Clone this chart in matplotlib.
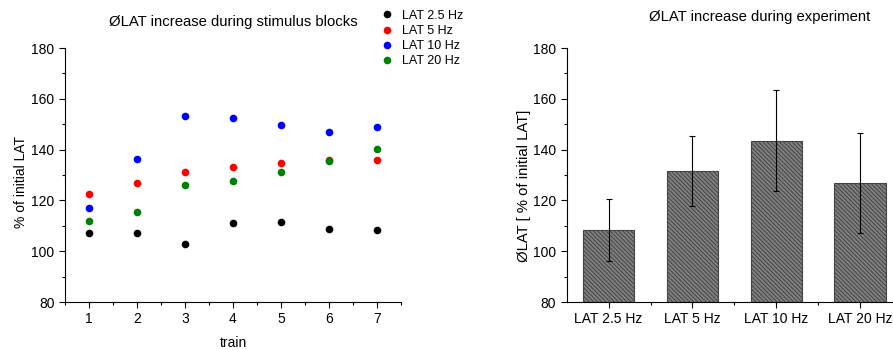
import matplotlib.pyplot as plt
from matplotlib.ticker import MultipleLocator, FixedLocator

plt.rcParams['font.family'] = ['Liberation Sans', 'DejaVu Sans']
plt.rcParams['hatch.color'] = 'black'
plt.rcParams['hatch.linewidth'] = 0.7

# data for left panel (% of initial LAT per train)
trains = [1, 2, 3, 4, 5, 6, 7]
lat_2_5 = [107.2, 107.0, 102.7, 111.0, 111.6, 108.8, 108.4]
lat_5 = [122.7, 126.9, 131.1, 133.3, 134.8, 135.8, 135.9]
lat_10 = [117.2, 136.3, 153.1, 152.4, 149.8, 146.9, 148.9]
lat_20 = [112.0, 115.4, 126.2, 127.5, 131.2, 135.7, 140.1]
series_labels = ['LAT 2.5 Hz', 'LAT 5 Hz', 'LAT 10 Hz', 'LAT 20 Hz']
series_colors = ['black', 'red', 'blue', 'green']

# data for right panel (mean and error)
bar_labels = ['LAT 2.5 Hz', 'LAT 5 Hz', 'LAT 10 Hz', 'LAT 20 Hz']
bar_means = [108.2, 131.5, 143.5, 126.9]
bar_errors = [12.2, 13.9, 19.8, 19.8]

fig = plt.figure(figsize=(8.93, 3.5), dpi=100)
W, H = 893.0, 350.0

# ---- left panel
ax1 = fig.add_axes([65 / W, 48 / H, 336 / W, 254 / H])
for vals, lab, col in zip([lat_2_5, lat_5, lat_10, lat_20], series_labels, series_colors):
    ax1.plot(trains, vals, 'o', color=col, markersize=5.5, label=lab, markeredgewidth=0)
ax1.set_xlim(0.5, 7.5)
ax1.set_ylim(80, 180)
ax1.xaxis.set_major_locator(MultipleLocator(1))
ax1.xaxis.set_minor_locator(MultipleLocator(0.5))
ax1.yaxis.set_major_locator(MultipleLocator(20))
ax1.yaxis.set_minor_locator(MultipleLocator(10))
ax1.set_xlabel('train', fontsize=10, labelpad=7)
ax1.set_ylabel('% of initial LAT', fontsize=10)
ax1.yaxis.set_label_coords(-0.110, 0.472)
ax1.set_title('ØLAT increase during stimulus blocks', fontsize=10.7, pad=16)
ax1.legend(loc='upper left', bbox_to_anchor=(0.92, 1.17), frameon=False, fontsize=9,
           handletextpad=0.6, labelspacing=0.25, handlelength=1.2, borderaxespad=0)

# ---- right panel
ax2 = fig.add_axes([566.7 / W, 48 / H, (W - 566.7) / W, 254 / H])
xpos = list(range(len(bar_labels)))
ax2.bar(xpos, [m - 80 for m in bar_means], bottom=80, width=0.61, color='#808080',
        edgecolor='#444444', linewidth=0.8, hatch='\\\\\\\\\\\\\\\\')
ax2.errorbar(xpos, bar_means, yerr=bar_errors, fmt='none', ecolor='black',
             elinewidth=0.8, capsize=2.5, capthick=0.8)
ax2.set_xlim(-0.5, -0.5 + (W - 566.7) / 83.8)
ax2.set_ylim(80, 180)
ax2.set_xticks(xpos)
ax2.set_xticklabels(bar_labels)
ax2.xaxis.set_minor_locator(FixedLocator([0.5, 1.5, 2.5]))
ax2.yaxis.set_major_locator(MultipleLocator(20))
ax2.yaxis.set_minor_locator(MultipleLocator(10))
ax2.set_ylabel('ØLAT [ % of initial LAT]', fontsize=10.7)
ax2.yaxis.set_label_coords(-0.110, 0.457)
fig.text(760 / W, 1 - 17 / H, 'ØLAT increase during experiment', fontsize=10.7,
         ha='center', va='center')

for ax in (ax1, ax2):
    ax.spines['top'].set_visible(False)
    ax.spines['right'].set_visible(False)
    ax.tick_params(which='major', direction='out', length=4, width=0.8, labelsize=10)
    ax.tick_params(which='minor', direction='out', length=2.5, width=0.8)

fig.savefig('out.png', dpi=100)
